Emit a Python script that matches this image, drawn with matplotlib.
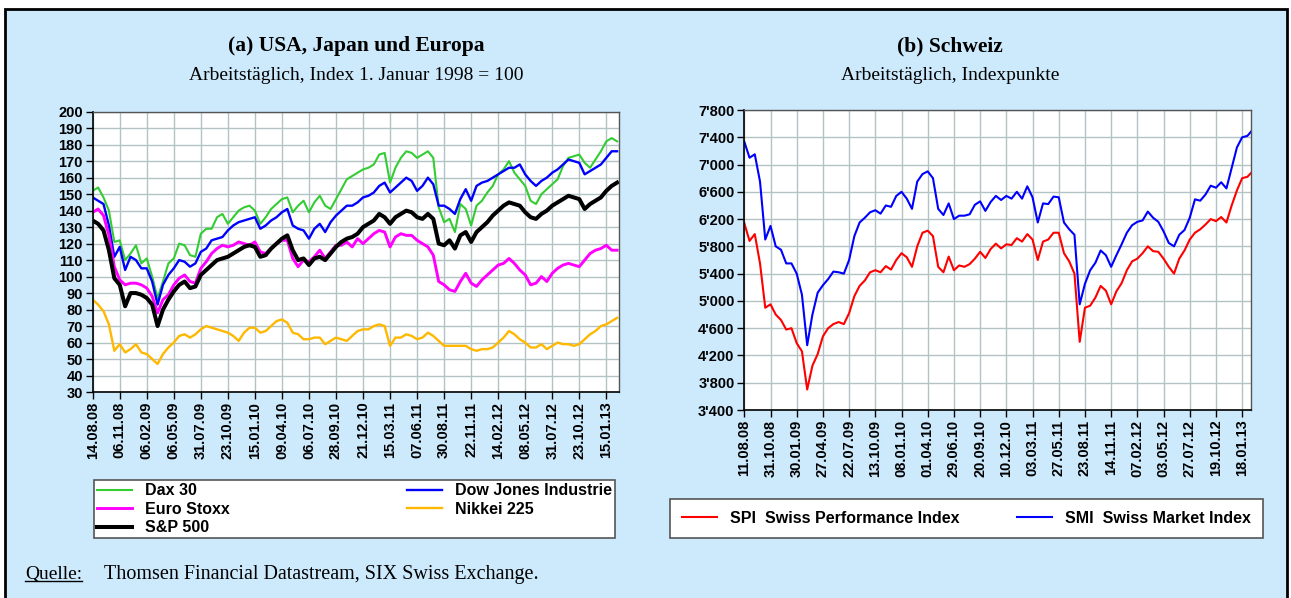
import matplotlib
matplotlib.use("Agg")
import matplotlib.pyplot as plt
from matplotlib.patches import Rectangle
from matplotlib.lines import Line2D
from matplotlib.ticker import FixedLocator
import numpy as np

W, H = 1291, 598
BG = '#cdeafd'
STEP = 12          # business days between two samples
TICK_STEP = 60     # business days between two date labels

# (a) USA, Japan und Europa -- index 1.1.1998 = 100
left_dates = ['14.08.08', '06.11.08', '06.02.09', '06.05.09', '31.07.09', '23.10.09',
              '15.01.10', '09.04.10', '06.07.10', '28.09.10', '21.12.10', '15.03.11',
              '07.06.11', '30.08.11', '22.11.11', '14.02.12', '08.05.12', '31.07.12',
              '23.10.12', '15.01.13']

dax = [152, 154, 148, 140, 121, 122, 110, 114, 119, 108, 111, 100, 87, 97, 108, 111, 120, 119, 113, 112,
       126, 129, 129, 136, 138,
       132, 136, 140, 142, 143, 140, 132, 136, 141, 144, 147, 148, 139, 143, 146, 139, 145, 149, 143, 141,
       147, 153, 159, 161, 163, 165, 166, 168, 174,
       175, 157, 166, 172, 176, 175, 172, 174, 176, 172, 142, 133, 135, 127, 144, 141, 131, 143, 146, 151,
       155, 162, 165, 170, 163, 159, 155, 146,
       144, 150, 153, 156, 159, 167, 172, 173, 174, 169, 166, 171, 176, 182, 184, 182]

dow = [148, 146, 144, 131, 112, 118, 104, 112, 110, 105, 105, 97, 83, 95, 101, 105, 110, 109, 106, 108,
       115, 117, 122, 123, 124,
       128, 131, 133, 134, 135, 136, 129, 131, 134, 136, 139, 141, 131, 129, 128, 123, 129, 132, 127, 133,
       137, 140, 143, 143, 145, 148, 149, 151, 155,
       157, 151, 154, 157, 160, 158, 152, 155, 160, 156, 143, 143, 141, 138, 147, 153, 146, 155, 157, 158,
       160, 162, 164, 166, 166, 168, 162, 158,
       155, 158, 160, 163, 165, 168, 171, 170, 169, 162, 164, 166, 168, 172, 176, 176]

eurostoxx = [139, 141, 137, 125, 106, 98, 95, 96, 96, 95, 93, 88, 78, 86, 89, 95, 99, 101, 97, 96,
             105, 109, 114, 117, 119,
             118, 119, 121, 120, 119, 121, 115, 114, 117, 120, 122, 122, 111, 106, 110, 109, 112, 116, 111, 115,
             119, 119, 121, 118, 123, 120, 123, 126, 128,
             127, 118, 124, 126, 125, 125, 122, 120, 118, 113, 97, 95, 92, 91, 97, 102, 96, 94, 98, 101,
             104, 107, 108, 111, 108, 104, 101, 95,
             96, 100, 97, 102, 105, 107, 108, 107, 106, 110, 114, 116, 117, 119, 116, 116]

nikkei = [86, 83, 79, 71, 55, 59, 54, 56, 59, 54, 53, 50, 47, 53, 57, 60, 64, 65, 63, 65,
          68, 70, 69, 68, 67,
          66, 64, 61, 66, 69, 69, 66, 67, 70, 73, 74, 72, 66, 65, 62, 62, 63, 63, 59, 61,
          63, 62, 61, 64, 67, 68, 68, 70, 71,
          70, 58, 63, 63, 65, 64, 62, 63, 66, 64, 61, 58, 58, 58, 58, 58, 56, 55, 56, 56,
          57, 60, 63, 67, 65, 62, 60, 57,
          57, 59, 56, 58, 60, 59, 59, 58, 59, 62, 65, 67, 70, 71, 73, 75]

sp500 = [134, 132, 128, 116, 99, 95, 82, 90, 90, 89, 87, 83, 70, 80, 86, 91, 95, 97, 93, 94,
         101, 104, 107, 110, 111,
         112, 114, 116, 118, 119, 118, 112, 113, 117, 120, 123, 125, 116, 110, 111, 107, 111, 112, 110, 114,
         118, 121, 123, 124, 126, 130, 132, 134, 138,
         136, 132, 136, 138, 140, 139, 136, 135, 138, 135, 120, 119, 122, 117, 125, 127, 121, 127, 130, 133,
         137, 140, 143, 145, 144, 143, 139, 136,
         135, 138, 140, 143, 145, 147, 149, 148, 147, 141, 144, 146, 148, 152, 155, 157]

# (b) Schweiz -- index points
right_dates = ['11.08.08', '31.10.08', '30.01.09', '27.04.09', '22.07.09', '13.10.09',
               '08.01.10', '01.04.10', '29.06.10', '20.09.10', '10.12.10', '03.03.11',
               '27.05.11', '23.08.11', '14.11.11', '07.02.12', '03.05.12', '27.07.12',
               '19.10.12', '18.01.13']

spi = [6140, 5880, 5980, 5550, 4900, 4950, 4800, 4720, 4580, 4600, 4380, 4260, 3700, 4050, 4220,
       4480, 4600, 4660, 4690, 4660, 4820, 5070, 5220, 5300, 5420,
       5450, 5420, 5510, 5460, 5600, 5700, 5640, 5500, 5800, 6000, 6030, 5950, 5500, 5420, 5650,
       5450, 5520, 5500, 5540, 5620, 5720, 5630, 5760, 5840, 5770, 5830, 5820, 5920,
       5870, 5980, 5900, 5600, 5870, 5900, 6000, 6000, 5700, 5580, 5400, 4400, 4900, 4930, 5050,
       5220, 5150, 4950, 5140, 5260, 5450, 5580, 5620, 5700, 5800, 5730, 5720, 5620,
       5500, 5400, 5620, 5740, 5900, 6000, 6050, 6120, 6200, 6170, 6230, 6150, 6400, 6620, 6800,
       6820, 6900]

smi = [7335, 7100, 7150, 6750, 5900, 6100, 5800, 5750, 5550, 5550, 5400, 5090, 4350, 4800, 5120,
       5230, 5320, 5430, 5420, 5400, 5600, 5950, 6150, 6220, 6300,
       6330, 6280, 6400, 6380, 6540, 6600, 6500, 6350, 6750, 6860, 6900, 6800, 6350, 6260, 6430,
       6200, 6250, 6250, 6270, 6410, 6460, 6320, 6450, 6540, 6480, 6540, 6500, 6600,
       6500, 6680, 6520, 6150, 6430, 6420, 6530, 6520, 6150, 6050, 5970, 4950, 5250, 5450, 5560,
       5740, 5670, 5500, 5670, 5830, 6000, 6110, 6160, 6180, 6310, 6220, 6160, 6020,
       5850, 5800, 5970, 6040, 6220, 6490, 6470, 6560, 6690, 6660, 6740, 6650, 6950, 7250, 7400,
       7420, 7510]


def fx(px):
    return px / W


def fy(py):
    return 1 - py / H


def style_axes(ax, dates, xmax, label_font):
    ax.set_facecolor('white')
    ax.set_xlim(0, xmax)
    ax.xaxis.set_major_locator(FixedLocator(np.arange(len(dates)) * TICK_STEP))
    ax.set_xticklabels(dates, rotation=90, fontdict=label_font)
    ax.grid(True, color='#b3c2c2', linewidth=1.0)
    ax.set_axisbelow(True)
    ax.tick_params(direction='out', length=5, width=1.0, color='black', pad=2)
    for side in ['left', 'bottom']:
        ax.spines[side].set_color('black')
        ax.spines[side].set_linewidth(1.2)
    for side in ['top', 'right']:
        ax.spines[side].set_color('#555555')
        ax.spines[side].set_linewidth(1.0)


def main():
    tick_font = {'family': 'Liberation Sans', 'weight': 'bold', 'size': 10.5}
    legend_font = {'family': 'Liberation Sans', 'weight': 'bold', 'size': 11.5}

    fig = plt.figure(figsize=(W / 100, H / 100), dpi=100)
    fig.patch.set_facecolor('white')

    # light blue panel with black border, kept behind the axes
    fig.patches.append(Rectangle((fx(5), fy(604)), fx(1287) - fx(5), fy(9) - fy(604),
                                 transform=fig.transFigure, facecolor=BG,
                                 edgecolor='black', linewidth=2, zorder=-10))

    # ---- left panel
    ax1 = fig.add_axes([fx(92.7), fy(392), fx(619) - fx(92.7), fy(111.7) - fy(392)])
    x_left = np.arange(len(dax)) * STEP
    l_dax, = ax1.plot(x_left, dax, color='#33cc33', lw=1.5)
    l_dow, = ax1.plot(x_left, dow, color='#0000ff', lw=1.7)
    l_eur, = ax1.plot(x_left, eurostoxx, color='#ff00ff', lw=2.1)
    l_nik, = ax1.plot(x_left, nikkei, color='#ffb800', lw=1.7)
    l_sp, = ax1.plot(x_left, sp500, color='black', lw=2.9)
    ax1.set_ylim(30, 200)
    yl = np.arange(30, 201, 10)
    ax1.set_yticks(yl)
    ax1.set_yticklabels([str(v) for v in yl], fontdict=tick_font)
    style_axes(ax1, left_dates, 19.47 * TICK_STEP, tick_font)

    leg1 = fig.legend([l_dax, l_eur, l_sp, l_dow, l_nik],
                      ['Dax 30', 'Euro Stoxx', 'S&P 500', 'Dow Jones Industrie', 'Nikkei 225'],
                      loc='upper left', ncol=2, mode='expand',
                      bbox_to_anchor=(fx(94), fy(538), fx(615) - fx(94), fy(480) - fy(538)),
                      bbox_transform=fig.transFigure, prop=legend_font,
                      frameon=True, fancybox=False, framealpha=1, edgecolor='#555555',
                      handlelength=2.2, handletextpad=0.8, labelspacing=0.22,
                      borderpad=0.2, borderaxespad=0)
    leg1.get_frame().set_linewidth(1.2)

    # ---- right panel
    ax2 = fig.add_axes([fx(744.3), fy(410), fx(1250.8) - fx(744.3), fy(110) - fy(410)])
    x_right = np.arange(len(spi)) * STEP
    l_spi, = ax2.plot(x_right, spi, color='#ff0000', lw=1.5)
    l_smi, = ax2.plot(x_right, smi, color='#0000ff', lw=1.5)
    ax2.set_ylim(3400, 7800)
    yt = np.arange(3400, 7801, 400)
    ax2.set_yticks(yt)
    ax2.set_yticklabels([f"{v // 1000}'{v % 1000:03d}" for v in yt], fontdict=tick_font)
    style_axes(ax2, right_dates, 19.33 * TICK_STEP, tick_font)

    leg2 = fig.legend([l_spi, l_smi],
                      ['SPI  Swiss Performance Index', 'SMI  Swiss Market Index'],
                      loc='upper left', ncol=2, mode='expand',
                      bbox_to_anchor=(fx(670), fy(537), fx(1263) - fx(670), fy(499) - fy(537)),
                      bbox_transform=fig.transFigure, prop=legend_font,
                      frameon=True, fancybox=False, framealpha=1, edgecolor='#555555',
                      handlelength=2.2, handletextpad=0.8, borderpad=0.75, borderaxespad=0)
    leg2.get_frame().set_linewidth(1.2)

    # ---- titles
    serif = 'Liberation Serif'
    fig.text(fx(356), fy(46), '(a) USA, Japan und Europa', ha='center', va='center',
             family=serif, weight='bold', fontsize=15.5)
    fig.text(fx(356), fy(75), 'Arbeitstäglich, Index 1. Januar 1998 = 100', ha='center',
             va='center', family=serif, fontsize=14)
    fig.text(fx(950), fy(46), '(b) Schweiz', ha='center', va='center',
             family=serif, weight='bold', fontsize=15.5)
    fig.text(fx(950), fy(75), 'Arbeitstäglich, Indexpunkte', ha='center', va='center',
             family=serif, fontsize=14)

    # ---- source line, "Quelle:" underlined
    q = fig.text(fx(25), fy(574), 'Quelle:', ha='left', va='center', family=serif, fontsize=14)
    fig.text(fx(104), fy(574), 'Thomsen Financial Datastream, SIX Swiss Exchange.',
             ha='left', va='center', family=serif, fontsize=14.5)
    fig.canvas.draw()
    bb = q.get_window_extent().transformed(fig.transFigure.inverted())
    fig.add_artist(Line2D([bb.x0, bb.x1], [bb.y0 + 0.002, bb.y0 + 0.002],
                          transform=fig.transFigure, color='black', lw=1.0))

    fig.savefig('out.png', dpi=100, facecolor=fig.get_facecolor())


if __name__ == "__main__":
    main()
